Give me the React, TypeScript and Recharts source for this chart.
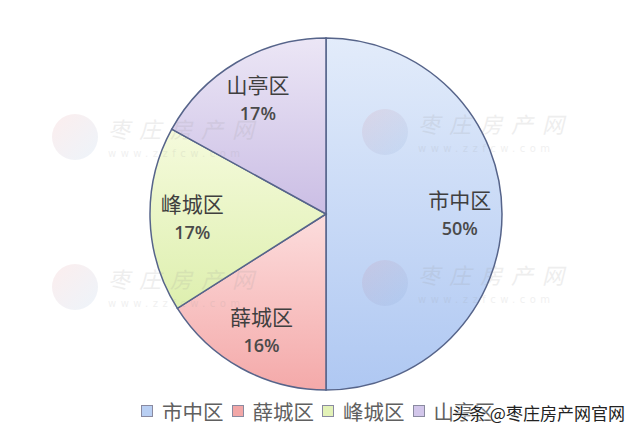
import { PieChart, Pie, Cell, Legend } from 'recharts';

const districts = ['市中区', '薛城区', '峰城区', '山亭区'];
const shares = [50, 16, 17, 17];
const gradTop = ['#e0eafa', '#fcdada', '#f4fad9', '#eae4f5'];
const gradBottom = ['#a8c3f1', '#f3a2a2', '#dbeea8', '#c6b8e2'];
const legendSwatch = ['#b9cff3', '#f2a7a7', '#e3f2b8', '#d2c6ea'];

const WATERMARKS = [
  { x: 75, y: 137 },
  { x: 385, y: 132 },
  { x: 75, y: 287 },
  { x: 385, y: 283 },
];

const data = districts.map((name, i) => ({ name, value: shares[i] }));

const RAD = Math.PI / 180;

function SliceLabel(props: any) {
  const { cx, cy, midAngle, outerRadius, name, value } = props;
  const r = outerRadius * 0.76;
  const x = cx + r * Math.cos(-midAngle * RAD);
  const y = cy + r * Math.sin(-midAngle * RAD);
  return (
    <g>
      <text x={x} y={y - 6} textAnchor="middle" fill="#3f3f3f" fontSize={21}
        fontFamily="'Noto Sans CJK SC', sans-serif">
        {name}
      </text>
      <text x={x} y={y + 21} textAnchor="middle" fill="#4a4a4a" fontSize={18} fontWeight={600}
        fontFamily="'Open Sans', 'Noto Sans', sans-serif">
        {value}%
      </text>
    </g>
  );
}

function LegendBox() {
  return (
    <div style={{ display: 'flex', alignItems: 'center', paddingLeft: 141, fontFamily: "'Noto Sans CJK SC', sans-serif" }}>
      {districts.map((d, i) => (
        <div key={d} style={{ display: 'flex', alignItems: 'center', marginRight: 8 }}>
          <span style={{
            display: 'inline-block', width: 10, height: 10,
            background: legendSwatch[i], border: '1px solid #8a8aa0', marginRight: 9,
          }} />
          <span style={{ fontSize: 20.5, color: '#606060', lineHeight: '22px' }}>{d}</span>
        </div>
      ))}
    </div>
  );
}

export default function App() {
  return (
    <div style={{ position: 'absolute', left: 0, top: 0, width: 640, height: 434, background: '#fff', overflow: 'hidden' }}>
      <div style={{ position: 'absolute', left: 0, top: 0 }}>
        <PieChart width={640} height={434} margin={{ top: 0, right: 0, bottom: 0, left: 0 }}>
          <defs>
            {districts.map((d, i) => (
              <linearGradient key={d} id={`g${i}`} x1="0" y1="0" x2="0" y2="1">
                <stop offset="0%" stopColor={gradTop[i]} />
                <stop offset="100%" stopColor={gradBottom[i]} />
              </linearGradient>
            ))}
          </defs>
          <Pie
            data={data}
            dataKey="value"
            nameKey="name"
            cx={326}
            cy={214}
            outerRadius={176}
            startAngle={90}
            endAngle={-270}
            stroke="#56648a"
            strokeWidth={1.5}
            label={SliceLabel}
            labelLine={false}
            isAnimationActive={false}
          >
            {data.map((entry, i) => (
              <Cell key={entry.name} fill={`url(#g${i})`} fillOpacity={0.92} />
            ))}
          </Pie>
          <Legend
            verticalAlign="bottom"
            align="left"
            content={<LegendBox />}
            wrapperStyle={{ left: 0, bottom: 12, width: 640 }}
          />
        </PieChart>
      </div>
      <svg width={640} height={434} style={{ position: 'absolute', left: 0, top: 0, pointerEvents: 'none' }}>
        <defs>
          <linearGradient id="logo" x1="0" y1="0" x2="1" y2="1">
            <stop offset="0%" stopColor="#e05050" />
            <stop offset="100%" stopColor="#4a90d0" />
          </linearGradient>
        </defs>
        {WATERMARKS.map((w, i) => (
          <g key={i}>
            <circle cx={w.x} cy={w.y} r={23} fill="url(#logo)" opacity={0.1} />
            <text x={w.x + 33} y={w.y + 1} fill="#999" opacity={0.16} fontSize={22} fontStyle="italic"
              letterSpacing={9} fontFamily="'Noto Sans CJK SC', sans-serif">枣庄房产网</text>
            <text x={w.x + 33} y={w.y + 20} fill="#999" opacity={0.14} fontSize={10}
              letterSpacing={4.5} fontFamily="'DejaVu Sans', sans-serif">www.zzfcw.com</text>
          </g>
        ))}
      </svg>
      <div style={{
        position: 'absolute', left: 452, top: 400, fontSize: 17, color: '#222',
        fontFamily: "'Noto Sans CJK SC', sans-serif",
        textShadow: '0 0 2px #fff, 0 0 2px #fff, 0 0 3px #fff',
      }}>
        头条 @枣庄房产网官网
      </div>
    </div>
  );
}
